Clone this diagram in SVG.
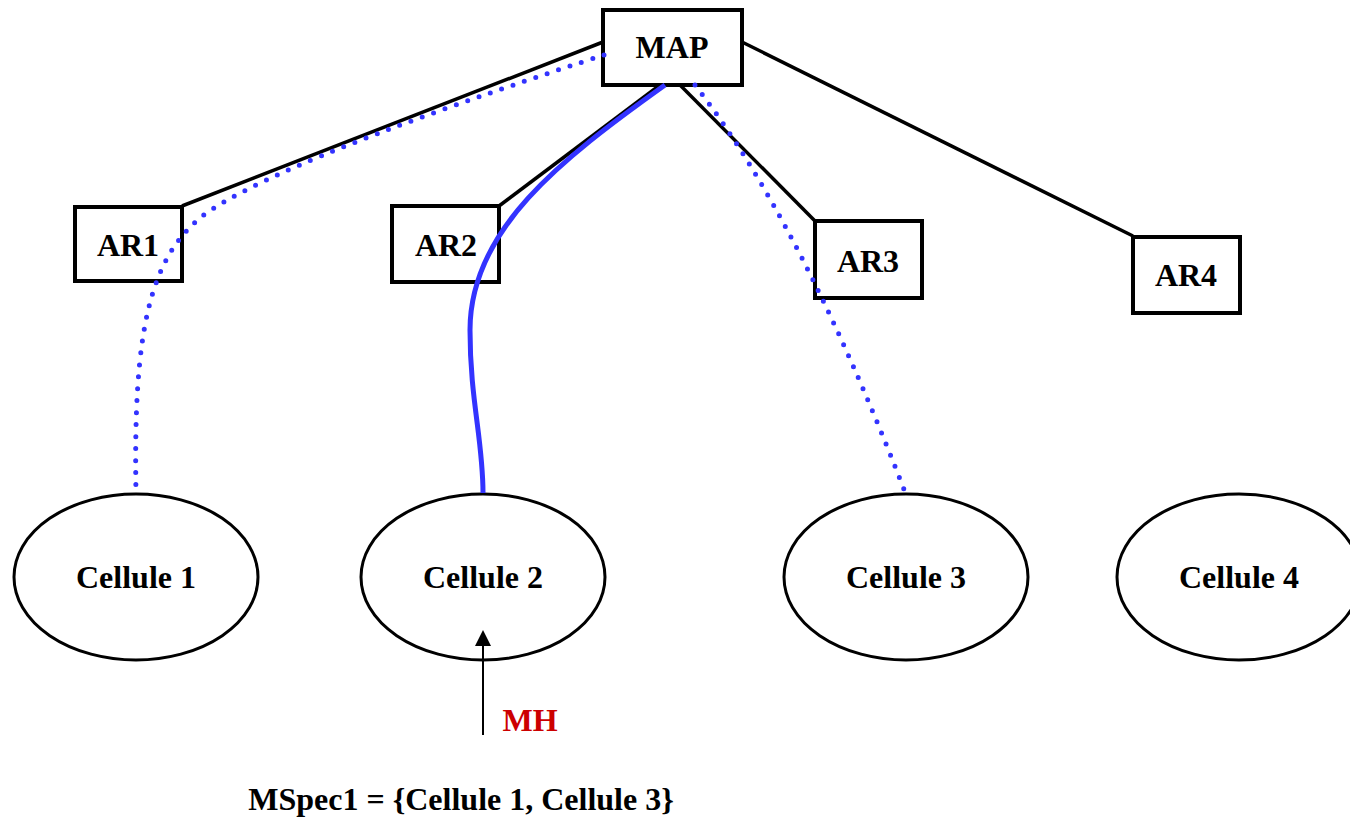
<svg xmlns="http://www.w3.org/2000/svg" width="1350" height="831" viewBox="0 0 1350 831">
<style>
.box{fill:#fff;stroke:#000;stroke-width:4}
.cell{fill:#fff;stroke:#000;stroke-width:3}
.lbl{font-family:"Liberation Serif","Times New Roman",serif;font-weight:bold;font-size:32px;fill:#000;text-anchor:middle}
.link{fill:none;stroke:#000;stroke-width:3.5}
.dot{fill:none;stroke:#3333ff;stroke-width:5;stroke-linecap:round;stroke-dasharray:0 12}
.route{fill:none;stroke:#3333ff;stroke-width:5}
</style>
<g id="links-black">
<line class="link" x1="603" y1="42" x2="182" y2="206"/>
<line class="link" x1="660" y1="85" x2="499" y2="206"/>
<line class="link" x1="680" y1="85" x2="815" y2="221"/>
<line class="link" x1="742" y1="42" x2="1133" y2="236"/>
</g>
<g id="MAP"><rect class="box" x="603" y="10" width="139" height="75"/><text class="lbl" x="672" y="58">MAP</text></g>
<g id="AR1"><rect class="box" x="75" y="207" width="107" height="74"/><text class="lbl" x="128" y="256">AR1</text></g>
<g id="AR2"><rect class="box" x="392" y="206" width="107" height="76"/><text class="lbl" x="446" y="256">AR2</text></g>
<g id="AR3"><rect class="box" x="815" y="221" width="107" height="77"/><text class="lbl" x="868" y="272">AR3</text></g>
<g id="AR4"><rect class="box" x="1133" y="237" width="107" height="76"/><text class="lbl" x="1186" y="286">AR4</text></g>
<g id="Cellule1"><ellipse class="cell" cx="136" cy="577" rx="122" ry="83"/><text class="lbl" x="136" y="588">Cellule 1</text></g>
<g id="Cellule2"><ellipse class="cell" cx="483" cy="577" rx="122" ry="83"/><text class="lbl" x="483" y="588">Cellule 2</text></g>
<g id="Cellule3"><ellipse class="cell" cx="906" cy="577" rx="122" ry="83"/><text class="lbl" x="906" y="588">Cellule 3</text></g>
<g id="Cellule4"><ellipse class="cell" cx="1239" cy="577" rx="122" ry="83"/><text class="lbl" x="1239" y="588">Cellule 4</text></g>
<g id="connectors">
<path class="dot" d="M604,55 C480,95 260,170 200,218 C150,260 133,330 136,493"/>
<path class="route" d="M665,85 C560,160 470,230 470,330 C470,400 483,440 483,493"/>
<path class="dot" d="M695,85 Q800,220 905,492"/>
<line x1="483" y1="735" x2="483" y2="644" stroke="#000" stroke-width="2"/>
<polygon points="483,630 475,646 491,646" fill="#000"/>
</g>
<g id="MH"><text class="lbl" x="530" y="731" style="fill:#cc0000">MH</text></g>
<g id="MSpec"><text class="lbl" x="461" y="810">MSpec1 = {Cellule 1, Cellule 3}</text></g>
</svg>
